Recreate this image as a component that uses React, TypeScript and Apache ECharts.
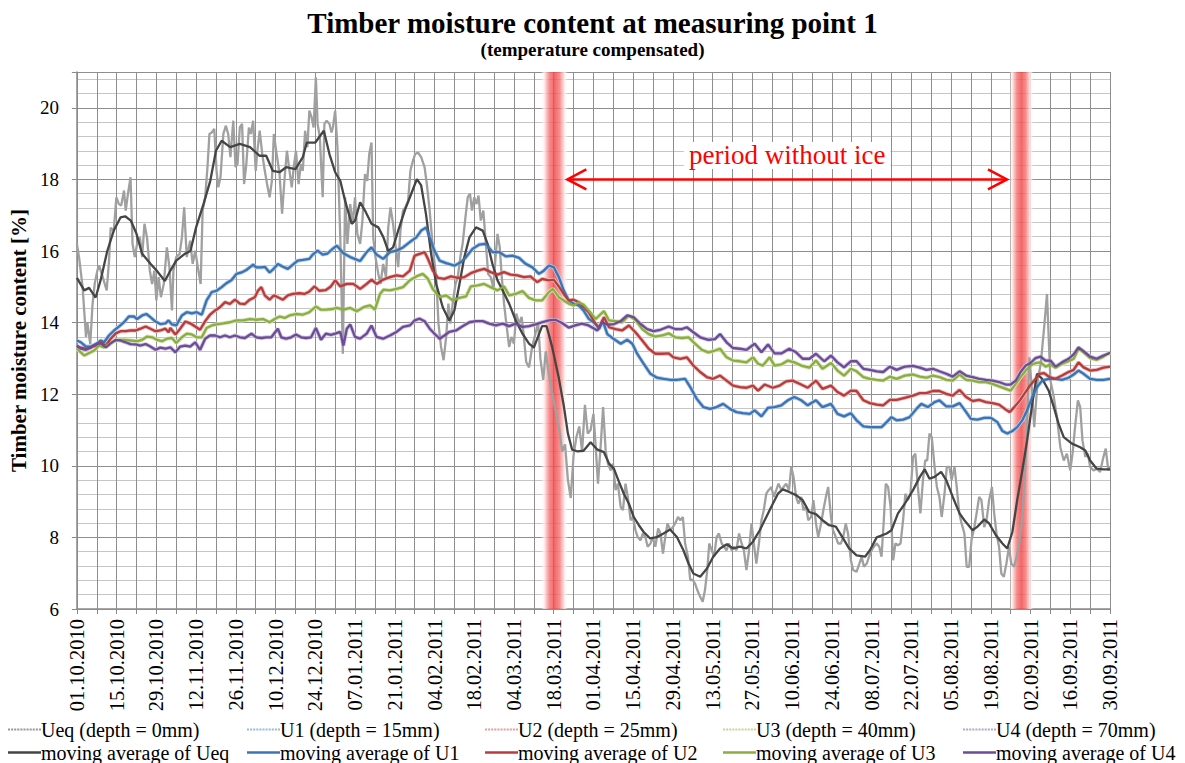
import React, { useEffect, useRef } from "react";
import * as echarts from "echarts";

const dateLabels = ["01.10.2010", "15.10.2010", "29.10.2010", "12.11.2010", "26.11.2010", "10.12.2010", "24.12.2010", "07.01.2011", "21.01.2011", "04.02.2011", "18.02.2011", "04.03.2011", "18.03.2011", "01.04.2011", "15.04.2011", "29.04.2011", "13.05.2011", "27.05.2011", "10.06.2011", "24.06.2011", "08.07.2011", "22.07.2011", "05.08.2011", "19.08.2011", "02.09.2011", "16.09.2011", "30.09.2011"];

const seriesNames = ["Ueq (depth = 0mm)", "U1 (depth = 15mm)", "U2 (depth = 25mm)", "U3 (depth = 40mm)", "U4 (depth = 70mm)"];
const maNames = ["moving average of Ueq", "moving average of U1", "moving average of U2", "moving average of U3", "moving average of U4"];

// [day since 01.10.2010, moisture %]
const ueqRaw: [number, number][] = [[0,16.2],[0.8,15.8],[2,15.0],[3.2,13.6],[3.7,14.0],[4.7,13.4],[5.5,14.5],[6.3,15.1],[7.2,15.45],[7.8,15.6],[9,15.3],[10.5,14.9],[11.3,15.7],[11.9,16.65],[13,16.57],[13.9,17.5],[14.8,17.31],[15.6,17.27],[16.6,17.69],[17.2,17.13],[18,17.6],[18.9,18.06],[19.6,16.2],[20.4,15.83],[21.2,16.2],[22.2,16.38],[23,15.83],[23.8,16.76],[24.7,16.38],[25.7,15.45],[26.5,15.08],[27.3,15.45],[28,14.62],[28.8,15.27],[29.6,14.71],[30.6,15.08],[31.7,16.1],[32.6,15.55],[33.5,14.34],[34,15.45],[35,15.83],[36.2,15.92],[37,16.38],[37.8,17.22],[38.7,15.83],[39.9,16.29],[40.8,15.64],[41.7,16.01],[42.8,15.45],[43.6,15.08],[44.3,17.13],[45.2,17.5],[46,18.34],[46.7,19.27],[47.5,19.31],[48.4,19.41],[49.2,18.24],[49.8,17.78],[50.6,18.06],[51.6,19.27],[52.5,19.5],[53.3,19.27],[54.1,18.62],[55.1,19.64],[55.9,18.34],[56.6,18.43],[57.4,19.45],[58.2,19.55],[58.9,17.87],[59.7,18.43],[60.6,19.45],[61.3,19.27],[62.1,19.64],[63,18.24],[63.6,18.8],[64.4,19.36],[65.3,18.71],[66.2,18.24],[67,17.87],[67.9,17.5],[68.7,17.96],[69.4,19.27],[70.2,18.8],[71.4,18.15],[72.3,17.04],[73.2,18.06],[74,18.8],[74.9,18.24],[75.7,17.78],[76.4,18.34],[77.2,18.8],[78.1,17.87],[78.9,18.43],[79.6,18.24],[80.4,19.36],[81.2,18.9],[81.9,19.92],[82.7,19.73],[83.4,19.45],[84.2,20.85],[84.8,19.55],[85.6,19.17],[86.6,17.5],[87.2,19.55],[88,19.64],[89,19.55],[89.7,19.31],[90.2,19.45],[91,19.92],[91.8,18.9],[92.8,16.38],[93.7,13.13],[94.5,17.5],[95.3,16.2],[96.3,17.31],[97.2,16.76],[98,17.5],[98.8,16.48],[99.8,16.2],[100.6,16.85],[101.5,18.15],[102.3,17.96],[103,18.71],[103.8,19.03],[104.4,16.38],[105.2,15.83],[106.2,15.36],[107,15.08],[107.9,15.64],[108.9,15.27],[109.7,16.66],[110.5,17.22],[111.4,16.76],[112.2,16.2],[113.2,15.55],[114,16.57],[114.9,17.13],[115.7,17.22],[116.7,17.4],[117.5,18.24],[118.4,18.52],[119.2,18.71],[120.2,18.75],[121.3,18.62],[122.5,18.34],[123.3,17.87],[124.3,17.13],[125.4,16.1],[126.6,15.27],[127.4,13.97],[128.3,13.32],[129.2,12.95],[130.1,13.6],[130.9,14.53],[131.6,13.97],[132.4,14.53],[133.4,15.08],[134.2,15.27],[135.1,15.83],[135.9,16.2],[136.9,16.94],[137.7,17.5],[138.5,17.6],[139.2,17.13],[140,17.5],[140.8,17.31],[141.5,17.55],[142.3,16.85],[143.2,17.13],[144.1,16.2],[144.9,15.36],[145.8,15.27],[146.7,14.99],[147.6,15.92],[148.2,16.48],[149,16.1],[149.7,15.27],[150.5,14.53],[151.3,13.97],[152.3,13.32],[153.1,13.6],[154,13.41],[154.8,14.25],[155.8,13.97],[156.7,14.16],[157.5,13.6],[158.3,12.9],[159.3,12.75],[160.4,13.32],[161.6,13.7],[162.5,14.0],[163.3,13.0],[164.3,12.4],[165.2,13.2],[166.2,12.6],[168,11.8],[170,11.0],[171,10.4],[172,10.6],[173,9.6],[174,9.1],[175,10.3],[176,10.8],[177,11.1],[178,10.4],[179,11.7],[180,10.9],[181,11.0],[182,11.45],[182.8,10.52],[183.6,9.5],[184.6,10.62],[185.4,11.64],[186.3,10.43],[187.1,10.06],[188.1,9.87],[188.9,10.06],[189.8,9.32],[190.6,9.5],[191.6,8.85],[192.4,8.76],[193.3,9.5],[194.1,9.13],[195.1,8.48],[195.9,8.57],[196.8,8.2],[197.6,8.01],[198.6,7.92],[199.4,8.11],[200.3,8.01],[201.1,7.74],[202.1,7.83],[202.9,8.01],[203.8,7.74],[204.8,8.25],[205.6,8.11],[206.5,7.55],[207.3,8.01],[208.1,8.39],[209.1,8.2],[210,8.29],[210.8,8.39],[211.8,8.57],[212.6,8.48],[213.5,8.57],[214.3,7.83],[215.3,7.46],[216.1,6.81],[217,6.81],[217.8,6.71],[218.6,6.53],[219.6,6.34],[220.5,6.2],[221.3,6.53],[222.1,7.09],[222.8,7.83],[223.7,7.64],[224.5,7.46],[225.4,8.01],[226.2,8.11],[227.2,7.83],[228,7.74],[228.9,7.64],[229.7,7.83],[230.7,7.64],[231.5,7.74],[232.4,7.64],[233.3,8.11],[234.2,7.83],[235,7.64],[235.9,7.09],[236.7,7.55],[237.7,8.39],[238.5,7.83],[239.4,7.27],[240.3,7.83],[241.2,8.48],[242,8.76],[242.9,9.22],[243.7,9.32],[244.7,9.41],[245.5,9.13],[246.4,9.32],[247.2,9.5],[248.2,9.32],[249,9.41],[249.9,9.5],[250.9,9.32],[251.7,9.97],[252.5,9.69],[253.4,9.13],[254.2,8.94],[255.2,9.13],[256,8.76],[256.9,8.85],[257.7,8.48],[258.7,8.57],[259.5,9.04],[260.4,8.39],[261.2,8.01],[262.2,8.39],[263,8.76],[263.9,9.13],[264.7,9.41],[265.7,8.57],[266.4,8.2],[267.4,8.01],[268.2,7.83],[269.2,7.83],[270,8.01],[270.9,8.39],[271.7,8.11],[272.7,7.36],[273.5,7.09],[274.7,7.04],[275.7,7.27],[276.5,7.46],[277.3,7.18],[278.3,7.27],[279.1,7.46],[280,7.64],[280.8,7.74],[281.8,7.83],[282.7,7.74],[283.5,7.46],[284.3,8.48],[285,9.5],[285.8,9.41],[286.7,8.85],[287.6,7.36],[288.4,7.83],[289.3,7.78],[290.2,7.83],[291.1,8.48],[291.9,9.22],[292.8,9.04],[293.7,9.22],[294.6,10.25],[295.4,10.34],[296.3,9.41],[297.2,8.67],[298.1,9.6],[298.9,10.15],[299.6,10.15],[300.4,10.9],[301.2,10.8],[302.2,9.97],[303,9.41],[303.9,9.13],[304.7,8.57],[305.7,9.22],[306.5,9.97],[307.4,9.97],[308.2,9.6],[309.2,9.97],[310,9.41],[310.9,8.67],[311.7,8.39],[312.7,8.11],[313.5,7.18],[314.4,7.18],[315.2,7.92],[316.2,8.29],[317,8.67],[317.9,9.13],[318.7,9.04],[319.7,8.29],[320.5,8.48],[321.4,9.04],[322.4,9.41],[323.2,8.67],[324,8.11],[324.9,7.74],[325.7,6.99],[326.6,6.9],[327.5,7.27],[328.4,7.74],[329.2,7.27],[330.2,7.18],[331.1,7.46],[331.9,7.74],[333.2,8.67],[334.4,10.34],[335.6,13.03],[336.5,12.1],[337.3,11.08],[338.5,12.38],[339.6,12.85],[340.7,13.78],[341.8,14.8],[343,12.38],[344.2,11.92],[345.3,11.36],[346.5,10.52],[347.7,10.15],[348.8,10.34],[350,9.87],[350.8,10.34],[351.8,11.17],[352.7,11.83],[353.5,11.64],[354.3,10.71],[355.3,10.25],[356.2,10.34],[357,9.97],[358.2,9.87],[359.3,9.92],[360.5,9.83],[361.7,10.25],[362.5,10.48],[363.4,9.87],[364,9.97]];

const ueqAvg: [number, number][] = [[0,15.25],[2.6,14.9],[4.3,14.97],[6.6,14.7],[8.4,15.2],[10.7,16.0],[13,16.57],[15.4,16.94],[17,16.97],[19,16.85],[21,16.48],[23,15.92],[26,15.64],[28,15.46],[31,15.16],[33,15.46],[35,15.73],[38,15.92],[40,16.0],[42,16.66],[44.6,17.31],[47,17.96],[49,18.8],[51,19.08],[54,18.9],[57.4,18.99],[61,18.9],[64.4,18.66],[66.7,18.66],[69,18.24],[71.4,18.2],[73.7,18.34],[77,18.29],[79.6,18.62],[81,19.03],[84,19.03],[87,19.36],[89,18.7],[91,18.2],[92.8,17.96],[94.5,17.4],[96.8,16.76],[98,16.85],[99.8,17.36],[101.5,17.13],[103.8,16.76],[106.2,16.66],[108,16.38],[109.7,16.0],[111.4,16.1],[113.2,16.57],[115.5,17.13],[117.8,17.6],[119.8,18.01],[121.3,17.83],[123,17.03],[124.8,15.92],[126.6,15.08],[128.9,14.43],[131.2,14.06],[133,14.34],[134.8,15.08],[136.5,15.83],[138.3,16.38],[140.6,16.66],[143,16.57],[144.7,16.2],[146.4,15.64],[148.2,15.18],[150,14.9],[152.3,14.53],[154.6,14.06],[157,13.69],[159.3,13.41],[161,13.3],[163.9,13.9],[165.5,13.9],[167.5,13.3],[169.8,12.45],[171.5,11.7],[173,10.9],[174.5,10.45],[176.5,10.4],[178.5,10.42],[181,10.66],[183.4,10.45],[185.7,10.38],[187.5,10.06],[189.2,9.92],[191,9.55],[192.7,9.22],[194.5,8.94],[196.2,8.57],[198,8.34],[199.7,8.15],[202,7.97],[204.4,8.01],[206.7,8.11],[209,8.22],[211.4,8.01],[213.7,7.64],[215.5,7.27],[217.2,6.99],[219.6,6.9],[222,7.13],[224.2,7.46],[226.6,7.69],[229,7.81],[231.2,7.69],[233.6,7.74],[235.9,7.69],[238.2,7.88],[240.6,8.2],[242.9,8.57],[245.2,8.94],[247,9.22],[248.7,9.34],[251,9.27],[253.4,9.18],[255.7,9.04],[258,8.71],[260.4,8.65],[262.7,8.48],[265,8.34],[267.4,8.3],[269.7,8.01],[272,7.7],[274.7,7.5],[277.7,7.46],[279.4,7.64],[281.8,8.0],[285.3,8.11],[287,8.2],[289.3,8.67],[291.7,8.94],[294.6,9.32],[297,9.69],[298.7,9.9],[300.4,9.64],[302.2,9.69],[304.5,9.83],[306.3,9.6],[308.6,9.13],[311,8.67],[312.7,8.48],[315.6,8.2],[317.3,8.3],[319.7,8.5],[321.4,8.39],[323.8,8.06],[326.1,7.83],[327.8,7.69],[329.6,8.15],[331.3,9.04],[333.1,9.87],[334.8,10.71],[336.6,11.73],[338.3,12.57],[340.1,12.43],[342.4,12.1],[344.2,11.64],[345.9,11.17],[347.7,10.8],[350.6,10.62],[353.5,10.52],[355.3,10.43],[357,10.15],[359.3,9.92],[361.7,9.9],[364,9.9]];

const u1Avg: [number, number][] = [[0,13.5],[1.4,13.45],[3.2,13.33],[4.9,13.33],[6.7,13.4],[8.4,13.5],[9.6,13.45],[11.3,13.64],[13.1,13.78],[14.8,13.89],[16.6,14.01],[18.3,14.17],[20.1,14.17],[21.2,14.1],[23,14.2],[24.5,14.24],[25.9,14.15],[27.7,14.03],[29.4,13.96],[31.2,13.98],[32.3,14.06],[33.5,13.95],[35,13.92],[37,14.2],[38.7,14.29],[40.5,14.26],[42.2,14.29],[44,14.22],[45.7,14.62],[47.5,14.85],[49.2,14.89],[51,14.99],[52.7,15.1],[54.5,15.19],[56.2,15.36],[58,15.4],[59.7,15.47],[62.1,15.62],[63.2,15.54],[65,15.54],[66.2,15.56],[67.9,15.4],[69.3,15.5],[70.8,15.64],[72.6,15.56],[74.3,15.5],[76.1,15.62],[77.8,15.73],[79.6,15.75],[81.9,15.78],[83.1,15.9],[84.8,16.01],[86.6,15.9],[88.3,15.93],[90.1,16.06],[91.6,16.15],[93.9,15.94],[96.3,15.83],[99.8,15.72],[102.1,15.97],[103.8,16.1],[105.6,15.9],[107.9,15.78],[110.3,15.97],[112.6,16.01],[114.9,16.1],[117.3,16.25],[119.6,16.38],[121.3,16.57],[123.1,16.66],[124.3,16.38],[126,16.01],[127.8,15.73],[130.1,15.66],[133,15.59],[135.4,15.69],[137.1,15.83],[139.4,16.06],[141.8,16.18],[144.1,16.2],[146.4,15.97],[148.8,15.97],[151.1,15.85],[153.4,15.87],[155.8,15.81],[158.1,15.64],[160.4,15.55],[162.8,15.36],[164.5,15.45],[166.3,15.59],[168,15.55],[169.8,15.27],[171.5,14.9],[173.3,14.62],[175,14.53],[176.8,14.48],[178.5,14.34],[180.3,14.11],[182.8,13.96],[184,13.82],[185.2,14.06],[186.9,13.68],[189.2,13.54],[191.6,13.41],[193.9,13.52],[195.7,13.41],[197.4,13.13],[199.7,12.85],[202.1,12.57],[204.4,12.46],[206.7,12.43],[209.1,12.4],[211.4,12.4],[214.3,12.43],[216.1,12.2],[218.4,11.87],[220.7,11.64],[223.1,11.59],[225.4,11.64],[227.7,11.73],[230.1,11.59],[232.4,11.5],[234.7,11.47],[237.1,11.45],[238.8,11.55],[241.2,11.38],[243.5,11.62],[245.8,11.64],[248.2,11.69],[250.5,11.83],[252.8,11.92],[255.2,11.83],[257.5,11.69],[260.4,11.83],[262.7,11.64],[265.7,11.73],[268,11.45],[270.3,11.38],[272.7,11.47],[274.7,11.27],[277.1,11.1],[279.4,11.08],[281.8,11.08],[283.5,11.08],[285.3,11.22],[287,11.36],[288.8,11.27],[291.1,11.29],[293.4,11.36],[295.8,11.59],[297.5,11.73],[299.8,11.64],[302.2,11.78],[303.9,11.83],[306.3,11.66],[308.6,11.66],[311,11.75],[312.7,11.57],[315,11.31],[317.3,11.29],[319.7,11.34],[322,11.34],[324.3,11.22],[326.1,10.97],[327.8,10.9],[329.6,10.97],[331.3,11.08],[333.1,11.27],[334.8,11.55],[336.6,11.92],[338.3,12.2],[340.1,12.38],[342.4,12.43],[344.8,12.43],[347.1,12.4],[349.4,12.46],[351.2,12.55],[352.9,12.66],[354.7,12.57],[357,12.43],[359.3,12.4],[361.7,12.4],[364,12.43]];

const u2Avg: [number, number][] = [[0,13.33],[1.4,13.3],[3.2,13.27],[4.9,13.31],[6.7,13.36],[8.4,13.45],[10.2,13.36],[11.9,13.55],[13.7,13.7],[15.4,13.76],[17.2,13.76],[18.9,13.78],[20.7,13.78],[22.4,13.83],[24.2,13.89],[25.9,13.83],[27.7,13.76],[29.4,13.78],[31.2,13.83],[32.3,13.73],[32.9,13.85],[34.7,13.67],[36.4,13.83],[38.2,14.03],[39.9,13.98],[41.7,13.89],[43.4,13.8],[45.2,14.04],[46.9,14.22],[48.7,14.34],[50.4,14.43],[52.2,14.57],[53.9,14.52],[55.7,14.64],[57.4,14.53],[59.2,14.52],[60.9,14.64],[62.7,14.71],[63.8,14.89],[65,14.99],[66.2,14.76],[67.9,14.64],[69.4,14.76],[70.8,14.71],[72.6,14.64],[74.3,14.76],[76.1,14.8],[78.4,14.82],[80.2,14.8],[81.9,14.87],[83.7,15.01],[85.4,14.89],[87.7,14.91],[89.5,15.01],[91,15.18],[92.8,15.01],[95.1,15.08],[97.4,15.08],[99.8,14.94],[102.1,15.08],[103.8,15.2],[105.6,15.08],[107.9,15.2],[110.3,15.27],[112.6,15.32],[114.9,15.29],[117.3,15.45],[119,15.87],[120.8,15.92],[122.5,15.97],[123.7,15.78],[125.4,15.45],[127.2,15.25],[129.5,15.22],[131.8,15.29],[134.2,15.25],[136.5,15.27],[138.8,15.38],[141.2,15.45],[143.5,15.5],[145.8,15.41],[148.2,15.34],[150.5,15.41],[152.8,15.34],[155.2,15.32],[157.5,15.27],[159.8,15.29],[162.2,15.13],[163.9,15.22],[166.3,15.18],[168,15.2],[169.8,15.01],[171.5,14.8],[173.3,14.62],[175,14.64],[176.8,14.57],[178.5,14.43],[180.3,14.29],[182.8,13.96],[184,13.87],[185.7,14.15],[187.5,13.87],[189.8,13.82],[192.1,13.78],[194.5,13.92],[196.8,13.73],[199.2,13.5],[201.5,13.27],[203.8,13.13],[206.2,13.13],[208.5,13.14],[210.2,13.03],[212.6,12.99],[214.9,13.03],[217.2,12.8],[219.6,12.62],[221.9,12.48],[224.2,12.43],[226.6,12.52],[228.9,12.38],[231.2,12.24],[233.6,12.2],[235.9,12.18],[238.2,12.24],[240,12.1],[242.3,12.27],[245.2,12.18],[247.6,12.24],[249.9,12.36],[252.2,12.38],[254.6,12.29],[257.5,12.18],[260.4,12.38],[262.7,12.15],[265.7,12.24],[268,12.06],[270.3,11.96],[272.7,12.1],[274.7,12.09],[277.1,11.83],[279.4,11.75],[281.8,11.71],[284.1,11.69],[286.4,11.84],[288.8,11.84],[291.7,11.9],[294.6,11.96],[297,12.03],[299.3,12.03],[301.6,12.09],[303.9,12.09],[306.3,12.01],[308.6,11.96],[311,12.12],[313.3,11.92],[315.6,11.81],[317.9,11.84],[320.3,11.78],[322.6,11.75],[324.9,11.71],[327.3,11.57],[328.6,11.5],[330.3,11.64],[332.1,11.81],[333.8,12.01],[335.6,12.22],[337.3,12.38],[339.1,12.57],[340.8,12.59],[342.6,12.48],[344.8,12.43],[347.1,12.52],[349.4,12.62],[351.2,12.68],[352.9,12.89],[354.7,12.75],[357,12.66],[359.3,12.68],[361.7,12.74],[364,12.77]];

const u3Avg: [number, number][] = [[0,13.27],[1.4,13.17],[2.6,13.08],[4.3,13.15],[6.1,13.22],[7.8,13.36],[9.6,13.31],[11.3,13.4],[13.1,13.48],[14.8,13.52],[16.6,13.52],[18.9,13.5],[21.2,13.48],[23,13.52],[24.7,13.61],[26.5,13.59],[28.2,13.52],[30,13.48],[31.7,13.55],[33.5,13.57],[35,13.43],[37,13.59],[38.7,13.69],[40.5,13.67],[42.2,13.59],[44,13.59],[45.7,13.85],[47.5,13.92],[49.2,13.95],[51.6,13.98],[53.9,14.01],[56.2,14.06],[58.6,14.06],[60.9,14.1],[63.2,14.08],[65.6,14.1],[67.9,14.01],[69.7,14.1],[71.4,14.17],[73.2,14.13],[74.9,14.2],[77.2,14.24],[79.6,14.22],[81.9,14.29],[84.2,14.45],[86,14.36],[87.7,14.36],[90.1,14.38],[91.6,14.41],[93.9,14.36],[96.3,14.41],[98.6,14.32],[101,14.43],[103.3,14.48],[105,14.36],[106.8,14.8],[108,14.92],[110.3,14.9],[112.6,14.94],[114.9,14.99],[117.3,15.18],[119.6,15.29],[121.9,15.36],[123.7,15.22],[125.4,14.94],[127.8,14.71],[130.1,14.76],[132.4,14.62],[134.8,14.69],[137.1,14.73],[138.8,15.01],[141.2,15.04],[143.5,15.08],[145.8,14.99],[148.2,14.9],[150.5,15.01],[152.3,14.76],[154.6,14.8],[157,14.88],[159.3,14.69],[161.6,14.62],[163.9,14.62],[166.3,14.85],[167.7,14.94],[169.8,14.71],[171.5,14.62],[173.3,14.53],[175,14.48],[176.8,14.57],[178.5,14.5],[180.3,14.34],[182.8,14.1],[184.6,14.24],[185.7,14.32],[187.5,14.06],[189.8,14.04],[192.1,14.01],[194.5,14.2],[196.8,14.07],[199.2,13.82],[201.5,13.68],[203.8,13.61],[206.2,13.64],[208.5,13.7],[210.8,13.59],[213.2,13.57],[215.5,13.59],[217.8,13.41],[220.2,13.24],[222.5,13.17],[224.2,13.2],[226.6,13.27],[228.9,13.03],[231.2,12.94],[233.6,12.92],[235.9,12.89],[238.2,13.03],[240,12.85],[241.7,12.8],[244.1,13.03],[245.8,12.8],[248.2,12.83],[250.5,12.94],[252.8,12.89],[255.2,12.8],[258.1,12.74],[260.4,12.94],[262.7,12.71],[265.7,12.87],[268,12.66],[270.3,12.52],[272.7,12.71],[274.7,12.64],[277.1,12.48],[279.4,12.43],[281.8,12.4],[284.1,12.38],[286.4,12.49],[288.8,12.43],[291.7,12.52],[294.6,12.55],[297,12.49],[299.3,12.46],[301.6,12.52],[303.9,12.48],[306.3,12.4],[308.6,12.38],[311,12.55],[313.3,12.4],[315.6,12.38],[317.9,12.34],[320.3,12.34],[322.6,12.29],[324.9,12.22],[327.3,12.15],[329,12.1],[330.8,12.29],[332.5,12.48],[334.3,12.66],[336,12.8],[337.8,12.87],[339.5,12.89],[341.3,12.77],[343,12.83],[344.8,12.74],[347.1,12.85],[349.4,12.92],[351.2,12.99],[352.9,13.27],[354.7,13.17],[357,13.01],[359.3,12.96],[361.7,13.05],[364,13.17]];

const u4Avg: [number, number][] = [[0,13.36],[1.4,13.27],[3.2,13.24],[4.9,13.3],[6.7,13.4],[8.4,13.42],[10.2,13.31],[11.9,13.42],[13.7,13.52],[15.4,13.5],[17.2,13.45],[18.9,13.4],[20.7,13.39],[22.4,13.36],[24.2,13.4],[25.9,13.33],[27.7,13.24],[29.4,13.3],[31.2,13.27],[32.9,13.31],[34.7,13.17],[36.4,13.33],[38.2,13.36],[39.9,13.33],[41.7,13.45],[43.4,13.24],[45.2,13.55],[46.9,13.64],[48.7,13.64],[50.4,13.59],[52.2,13.64],[53.9,13.59],[55.7,13.64],[57.4,13.59],[59.2,13.57],[61.5,13.69],[63.2,13.59],[65,13.57],[66.7,13.59],[68.5,13.59],[70.8,13.83],[72,13.59],[73.7,13.55],[75.5,13.59],[77.2,13.67],[79,13.59],[80.7,13.57],[82.5,13.59],[84.2,13.85],[86,13.52],[87.7,13.69],[89.5,13.66],[91,13.69],[92.8,13.74],[93.9,13.36],[95.1,13.83],[96.3,13.95],[98,13.6],[99.8,13.55],[102.1,13.69],[103.8,13.92],[105.6,13.6],[107.9,13.55],[110.3,13.64],[112.6,13.74],[114.9,13.88],[117.3,13.92],[119,14.06],[120.8,14.11],[122.5,14.04],[124.3,13.83],[126,13.69],[127.8,13.55],[129.5,13.64],[131.2,13.74],[133.6,13.78],[135.9,13.9],[138.3,14.01],[140.6,14.04],[143,14.04],[145.3,13.97],[147.6,13.92],[150,13.97],[152.3,13.9],[154.6,13.97],[157,13.88],[159.3,13.9],[161.6,13.95],[163.9,14.01],[166.3,14.06],[168.6,14.08],[170.9,13.99],[173.3,13.86],[175.6,13.92],[177.9,13.97],[180.3,13.92],[183.4,13.78],[185.2,14.01],[186.9,13.94],[189.2,13.96],[191.6,14.04],[193.9,14.2],[196.2,14.15],[198.6,13.96],[200.9,13.82],[203.2,13.76],[205.6,13.8],[208.5,13.89],[210.8,13.82],[213.2,13.82],[214.9,13.87],[217.2,13.73],[219.6,13.59],[222.5,13.52],[224.8,13.54],[226.6,13.68],[228.9,13.45],[231.2,13.29],[233.6,13.27],[235.9,13.24],[238.8,13.41],[241.2,13.17],[243.5,13.39],[245.8,13.14],[248.2,13.14],[251,13.27],[253.4,13.17],[255.7,12.99],[258.1,12.99],[260.4,13.13],[263.3,12.92],[265.7,13.08],[268,12.89],[270.3,12.75],[272.7,12.92],[274.7,12.92],[277.1,12.71],[279.4,12.68],[281.8,12.64],[284.1,12.62],[286.4,12.77],[288.8,12.68],[291.7,12.77],[294.6,12.79],[297,12.74],[299.3,12.68],[301.6,12.71],[303.9,12.64],[306.3,12.57],[308.6,12.49],[311,12.64],[313.3,12.52],[315.6,12.48],[317.9,12.43],[320.3,12.4],[322.6,12.38],[324.9,12.34],[327.3,12.27],[329,12.27],[330.8,12.38],[332.5,12.62],[334.3,12.8],[336,12.87],[337.8,13.01],[339.5,13.05],[341.3,12.94],[343,12.94],[344.8,12.77],[347.1,12.89],[349.4,12.99],[351.2,13.11],[352.9,13.31],[354.7,13.2],[357,13.05],[359.3,12.99],[361.7,13.08],[364,13.15]];

// ice periods (day ranges) and the arrow between them
const icePeriods: [number, number][] = [[163.5, 173], [328.5, 337]];
const arrowSpan: [number, number, number] = [172.8, 327.7, 18];
const arrowLabel = "period without ice";

const SERIF = '"Liberation Serif", "Times New Roman", serif';

function dottedIcon(): string {
  let d = "path://";
  for (let k = 0; k < 11; k++) d += `M${k * 3},5 L${k * 3 + 2},5 L${k * 3 + 2},7 L${k * 3},7 Z `;
  return d;
}

export default function App() {
  const ref = useRef<HTMLDivElement>(null);
  useEffect(() => {
    if (!ref.current) return;
    const chart = echarts.init(ref.current, undefined, { renderer: "svg" });
    const rawColors = ["#a0a0a0", "#b9cde6", "#e8bcbc", "#d5e4b8", "#cdc2dc"];
    const legendRawColors = ["#999999", "#9fb9dc", "#dca3a2", "#c3d89e", "#b6a7cc"];
    const maColors = ["#454545", "#3b74b4", "#b83c3b", "#8bad42", "#6c4c96"];
    const avgData = [ueqAvg, u1Avg, u2Avg, u3Avg, u4Avg];
    const rawData = [ueqRaw, u1Avg, u2Avg, u3Avg, u4Avg];

    const series: any[] = [];
    for (let i = 4; i >= 1; i--) {
      series.push({
        name: seriesNames[i], type: "line", data: rawData[i], showSymbol: false, symbol: "none",
        lineStyle: { color: rawColors[i], width: 4 }, itemStyle: { color: rawColors[i] }, z: 2,
      });
    }
    series.push({
      name: seriesNames[0], type: "line", data: ueqRaw, showSymbol: false, symbol: "none",
      lineStyle: { color: rawColors[0], width: 2.3 }, itemStyle: { color: rawColors[0] }, z: 3,
    });
    for (let i = 0; i < 5; i++) {
      series.push({
        name: maNames[i], type: "line", data: avgData[i], showSymbol: false, symbol: "none",
        lineStyle: { color: maColors[i], width: 2.3 }, itemStyle: { color: maColors[i] }, z: 4,
      });
    }
    series.push({
      type: "line", data: [], z: 10, silent: true,
      markArea: {
        silent: true,
        itemStyle: {
          color: new echarts.graphic.LinearGradient(0, 0, 1, 0, [
            { offset: 0, color: "rgba(255,255,255,0)" },
            { offset: 0.12, color: "rgba(255,236,236,0.85)" },
            { offset: 0.32, color: "rgba(245,110,110,0.8)" },
            { offset: 0.5, color: "rgba(240,70,70,0.82)" },
            { offset: 0.68, color: "rgba(245,110,110,0.8)" },
            { offset: 0.88, color: "rgba(255,236,236,0.85)" },
            { offset: 1, color: "rgba(255,255,255,0)" },
          ]),
        },
        data: icePeriods.map((p) => [{ xAxis: p[0] }, { xAxis: p[1] }]),
      },
    });
    series.push({
      type: "custom", z: 12, silent: true,
      data: [arrowSpan],
      encode: { x: [0, 1], y: 2 },
      renderItem: (params: any, api: any) => {
        const a = api.coord([api.value(0), api.value(2)]);
        const b = api.coord([api.value(1), api.value(2)]);
        const st = { stroke: "#ff0000", lineWidth: 2.5, fill: "none" };
        return {
          type: "group",
          children: [
            { type: "line", shape: { x1: a[0], y1: a[1], x2: b[0], y2: b[1] }, style: st },
            { type: "polyline", shape: { points: [[a[0] + 19, a[1] - 10], [a[0], a[1]], [a[0] + 19, a[1] + 10]] }, style: st },
            { type: "polyline", shape: { points: [[b[0] - 19, b[1] - 10], [b[0], b[1]], [b[0] - 19, b[1] + 10]] }, style: st },
            {
              type: "text", x: (a[0] + b[0]) / 2, y: a[1] - 24,
              style: {
                text: arrowLabel, fill: "#ff0000", fontSize: 27, fontFamily: SERIF,
                align: "center", verticalAlign: "middle", backgroundColor: "#ffffff", padding: [0, 5],
              },
            },
          ],
        };
      },
    });

    const legendLefts = [8, 247, 485, 723, 963];
    const dotted = dottedIcon();
    const legends = legendLefts.map((left, i) => ({
      left, top: 719, orient: "vertical", itemGap: 2, itemWidth: 33, itemHeight: 12, padding: 0,
      selectedMode: false,
      textStyle: { fontSize: 20, fontFamily: SERIF, color: "#000", lineHeight: 21, padding: [0, 0, 0, -5] },
      data: [
        { name: seriesNames[i], icon: dotted, itemStyle: { color: legendRawColors[i] } },
        { name: maNames[i], icon: "path://M0,4.8 L33,4.8 L33,7.2 L0,7.2 Z", itemStyle: { color: maColors[i] } },
      ],
    }));

    chart.setOption({
      animation: false,
      backgroundColor: "#ffffff",
      title: {
        text: "Timber moisture content at measuring point 1",
        subtext: "(temperature compensated)",
        left: "center", top: 3, itemGap: 3,
        textStyle: { fontSize: 29, fontWeight: "bold", fontFamily: SERIF, color: "#000" },
        subtextStyle: { fontSize: 19, fontWeight: "bold", fontFamily: SERIF, color: "#000" },
      },
      legend: legends,
      grid: { left: 76, right: 75, top: 72, bottom: 154, containLabel: false },
      xAxis: {
        type: "value", min: 0, max: 364, interval: 7,
        axisLine: { show: true, lineStyle: { color: "#8a8a8a", width: 1.5 } },
        axisTick: { show: true, length: 5, lineStyle: { color: "#8a8a8a" } },
        splitLine: { show: true, lineStyle: { color: "#8e8e8e", width: 1 } },
        axisLabel: {
          rotate: 90, margin: 10, fontSize: 20.5, fontFamily: SERIF, color: "#000",
          showMinLabel: true, showMaxLabel: true, hideOverlap: false,
          formatter: (v: number) => (v % 14 === 0 ? dateLabels[v / 14] : ""),
        },
      },
      yAxis: [
        {
          type: "value", min: 6, max: 21, interval: 0.4, z: 0,
          axisLine: { show: false }, axisTick: { show: false }, axisLabel: { show: false },
          splitLine: { show: true, lineStyle: { color: "#c6c6c6", width: 1 } },
        },
        {
          type: "value", min: 6, max: 21, interval: 2, position: "left", z: 1,
          name: "Timber moisture content [%]", nameLocation: "middle", nameGap: 41,
          nameTextStyle: { fontSize: 21, fontWeight: "bold", fontFamily: SERIF, color: "#000" },
          axisLine: { show: true, lineStyle: { color: "#8a8a8a", width: 1.5 } },
          axisTick: { show: true, length: 5, lineStyle: { color: "#8a8a8a" } },
          splitLine: { show: true, lineStyle: { color: "#8e8e8e", width: 1 } },
          axisLabel: {
            fontSize: 19, fontFamily: SERIF, color: "#000", margin: 18,
            formatter: (v: number) => (v > 20.5 ? "" : String(v)),
          },
        },
      ],
      series: series.map((s) => ({ ...s, yAxisIndex: 1 })),
    });
    return () => chart.dispose();
  }, []);
  return <div ref={ref} style={{ position: "fixed", left: 0, top: 0, width: 1185, height: 763 }} />;
}
